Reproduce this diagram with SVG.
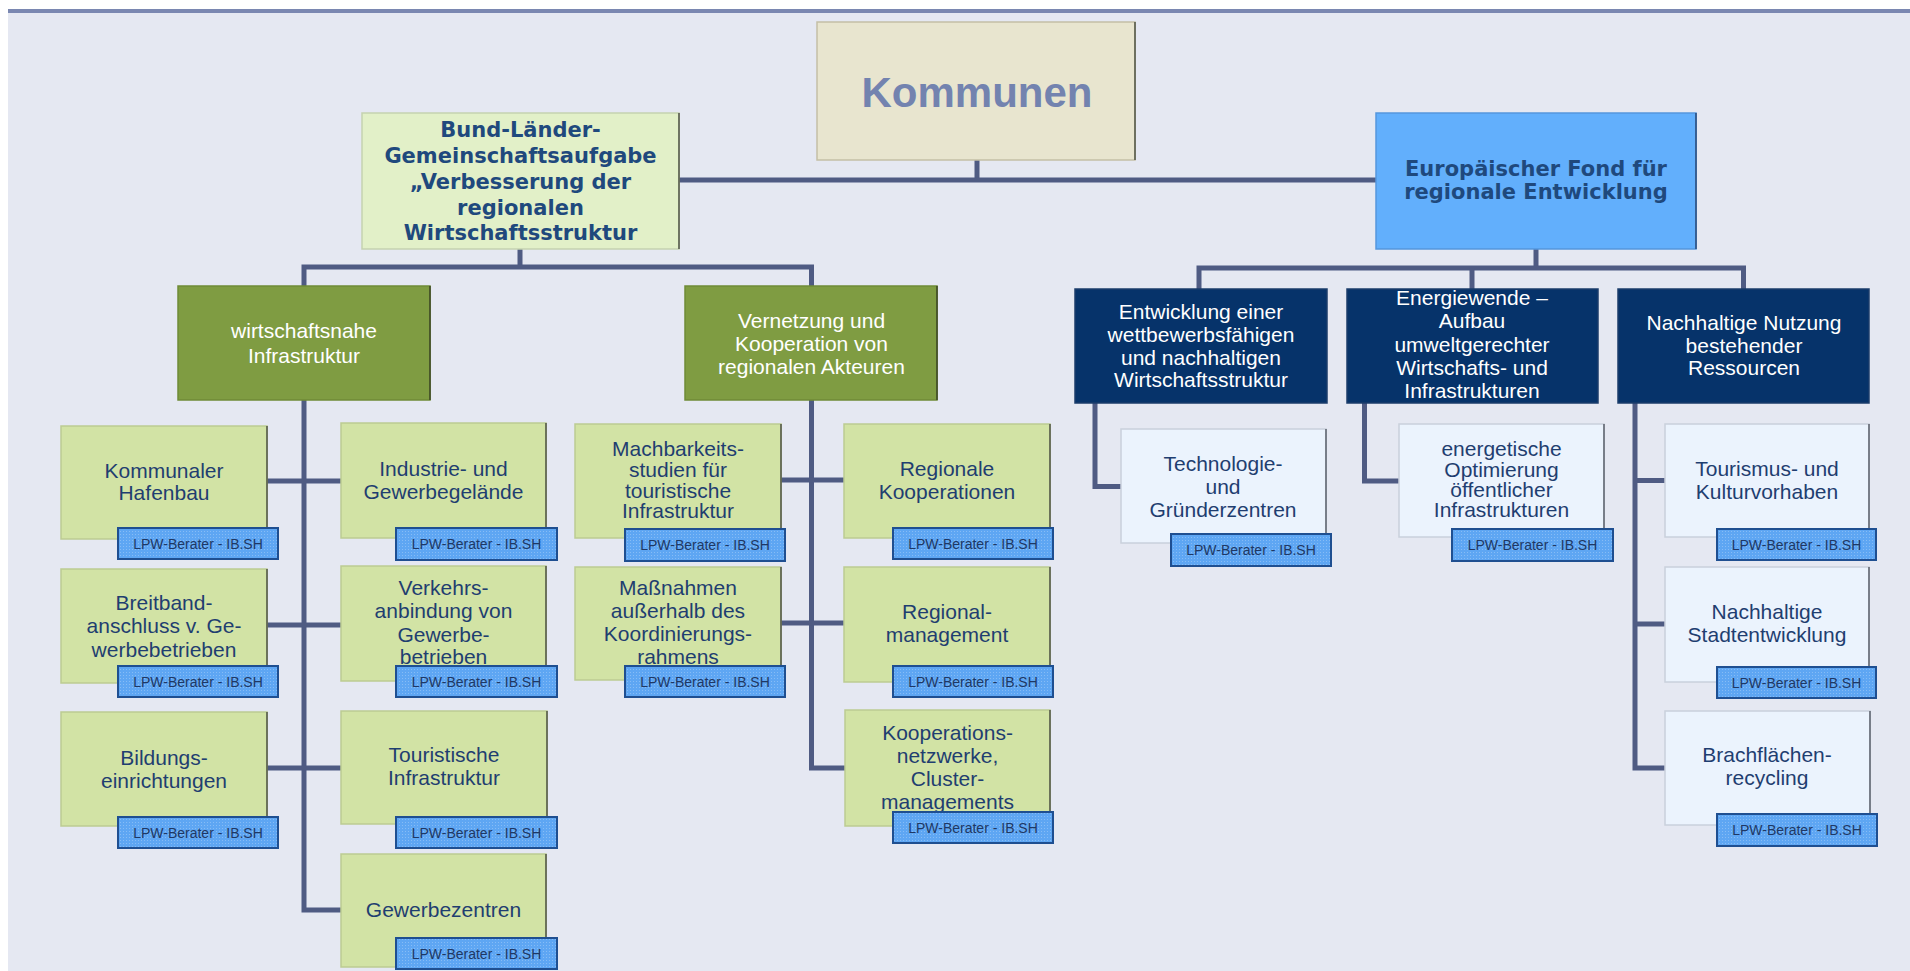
<svg xmlns="http://www.w3.org/2000/svg" width="1910" height="971" viewBox="0 0 1910 971">
<defs>
<pattern id="dots" width="3" height="3" patternUnits="userSpaceOnUse">
<rect width="3" height="3" fill="#5ea6f3"/>
<rect width="1" height="1" fill="#86bcf6"/>
</pattern>
</defs>
<style>
.bg{fill:#e5e8f2}
.conn{fill:none;stroke:#4f5b83;stroke-width:5;stroke-linejoin:miter;stroke-linecap:butt}
.lg{fill:#d2e3a5;stroke:#bccb93;stroke-width:1.5}
.ol{fill:#7f9c42;stroke:#6f8a37;stroke-width:1.5}
.nv{fill:#06336a;stroke:#1b3d6b;stroke-width:1.5}
.lb{fill:#ebf3fd;stroke:#c9d0dc;stroke-width:1.5}
.edge{stroke:#4e5244;stroke-width:1.5}
.badge{fill:url(#dots);stroke:#1f4f91;stroke-width:2}
.bt{font-family:"Liberation Sans",Arial,sans-serif;font-size:14px;fill:#1f3864;text-anchor:middle}
.t{font-family:"Liberation Sans",Arial,sans-serif;font-size:21px;fill:#1f3e70;text-anchor:middle}
.w{font-family:"Liberation Sans",Arial,sans-serif;font-size:21px;fill:#ffffff;text-anchor:middle}
.bold{font-family:"DejaVu Sans",Verdana,sans-serif;font-weight:bold;font-size:21px;fill:#1f497d;text-anchor:middle}
</style>
<rect x="0" y="0" width="1910" height="971" fill="#ffffff"/>
<rect class="bg" x="8" y="9" width="1902" height="962"/>
<rect x="8" y="9" width="1902" height="4" fill="#7a87b1"/>

<g id="connectors">
<path class="conn" d="M977,160 V180"/>
<path class="conn" d="M679,180 H1376"/>
<path class="conn" d="M520,249 V267"/>
<path class="conn" d="M304,286 V267 H811.5 V286"/>
<path class="conn" d="M1536,249 V268"/>
<path class="conn" d="M1199,289 V268 H1743.5 V289"/>
<path class="conn" d="M1472,268 V289"/>
<path class="conn" d="M304,400 V910 H341"/>
<path class="conn" d="M266,481 H341"/>
<path class="conn" d="M266,625 H341"/>
<path class="conn" d="M266,768 H341"/>
<path class="conn" d="M811.5,400 V768 H845"/>
<path class="conn" d="M781,480 H844"/>
<path class="conn" d="M781,623 H844"/>
<path class="conn" d="M1095,403 V486.5 H1121"/>
<path class="conn" d="M1364.5,403 V481 H1399"/>
<path class="conn" d="M1635,403 V768 H1665"/>
<path class="conn" d="M1635,480.5 H1665"/>
<path class="conn" d="M1635,624 H1665"/>
</g>

<g id="kommunen">
<rect x="817" y="22" width="318" height="138" fill="#e8e5cf" stroke="#c4bfa6" stroke-width="1.5"/>
<line class="edge" x1="1135" y1="22" x2="1135" y2="160"/>
<text x="977" y="107" font-family="Liberation Sans,Arial,sans-serif" font-weight="bold" font-size="42" fill="#7383af" text-anchor="middle">Kommunen</text>
</g>

<g id="bund">
<rect x="362" y="113" width="317" height="136" fill="#e2f0c8" stroke="#c5d2b0" stroke-width="1.5"/>
<line class="edge" x1="679" y1="113" x2="679" y2="249"/>
<text class="bold" x="520.5" y="137">Bund-Länder-</text>
<text class="bold" x="520.5" y="162.5">Gemeinschaftsaufgabe</text>
<text class="bold" x="520.5" y="188.5">„Verbesserung der</text>
<text class="bold" x="520.5" y="214.5">regionalen</text>
<text class="bold" x="520.5" y="240">Wirtschaftsstruktur</text>
</g>

<g id="efre">
<rect x="1376" y="113" width="320" height="136" fill="#62affc" stroke="#5596dd" stroke-width="1.5"/>
<line x1="1696" y1="113" x2="1696" y2="249" stroke="#284a7a" stroke-width="1.5"/>
<text class="bold" x="1536" y="176">Europäischer Fond für</text>
<text class="bold" x="1536" y="199">regionale Entwicklung</text>
</g>

<g id="wirtschaftsnahe">
<rect class="ol" x="178" y="286" width="252" height="114"/>
<line x1="430" y1="286" x2="430" y2="400" stroke="#3b4424" stroke-width="1.5"/>
<text class="w" x="304" y="338">wirtschaftsnahe</text>
<text class="w" x="304" y="363">Infrastruktur</text>
</g>

<g id="vernetzung">
<rect class="ol" x="685" y="286" width="252" height="114"/>
<line x1="937" y1="286" x2="937" y2="400" stroke="#3b4424" stroke-width="1.5"/>
<text class="w" x="811.5" y="327.5">Vernetzung und</text>
<text class="w" x="811.5" y="350.5">Kooperation von</text>
<text class="w" x="811.5" y="373.5">regionalen Akteuren</text>
</g>

<g id="entwicklung">
<rect class="nv" x="1075" y="289" width="252" height="114"/>
<text class="w" x="1201" y="318.5">Entwicklung einer</text>
<text class="w" x="1201" y="341.5">wettbewerbsfähigen</text>
<text class="w" x="1201" y="364.5">und nachhaltigen</text>
<text class="w" x="1201" y="387">Wirtschaftsstruktur</text>
</g>

<g id="energiewende">
<rect class="nv" x="1347" y="289" width="251" height="114"/>
<text class="w" x="1472" y="305">Energiewende –</text>
<text class="w" x="1472" y="328">Aufbau</text>
<text class="w" x="1472" y="351.5">umweltgerechter</text>
<text class="w" x="1472" y="374.5">Wirtschafts- und</text>
<text class="w" x="1472" y="397.5">Infrastrukturen</text>
</g>

<g id="nachhaltige-nutzung">
<rect class="nv" x="1618" y="289" width="251" height="114"/>
<text class="w" x="1744" y="330">Nachhaltige Nutzung</text>
<text class="w" x="1744" y="352.5">bestehender</text>
<text class="w" x="1744" y="375">Ressourcen</text>
</g>

<g id="kommunaler-hafenbau">
<rect class="lg" x="61" y="426" width="206" height="113"/>
<line class="edge" x1="267" y1="426" x2="267" y2="539"/>
<text class="t" x="164" y="477.5">Kommunaler</text>
<text class="t" x="164" y="500">Hafenbau</text>
<rect class="badge" x="118" y="528" width="160" height="31"/>
<text class="bt" x="198" y="548.5">LPW-Berater - IB.SH</text>
</g>

<g id="industrie">
<rect class="lg" x="341" y="423" width="205" height="115"/>
<line class="edge" x1="546" y1="423" x2="546" y2="538"/>
<text class="t" x="443.5" y="476">Industrie- und</text>
<text class="t" x="443.5" y="499">Gewerbegelände</text>
<rect class="badge" x="396" y="528" width="161" height="32"/>
<text class="bt" x="476.5" y="549">LPW-Berater - IB.SH</text>
</g>

<g id="breitband">
<rect class="lg" x="61" y="569" width="206" height="114"/>
<line class="edge" x1="267" y1="569" x2="267" y2="683"/>
<text class="t" x="164" y="610">Breitband-</text>
<text class="t" x="164" y="633">anschluss v. Ge-</text>
<text class="t" x="164" y="656.5">werbebetrieben</text>
<rect class="badge" x="118" y="666" width="160" height="31"/>
<text class="bt" x="198" y="686.5">LPW-Berater - IB.SH</text>
</g>

<g id="verkehrsanbindung">
<rect class="lg" x="341" y="566" width="205" height="115"/>
<line class="edge" x1="546" y1="566" x2="546" y2="681"/>
<text class="t" x="443.5" y="595">Verkehrs-</text>
<text class="t" x="443.5" y="618">anbindung von</text>
<text class="t" x="443.5" y="641.5">Gewerbe-</text>
<text class="t" x="443.5" y="663.5">betrieben</text>
<rect class="badge" x="396" y="666" width="161" height="31"/>
<text class="bt" x="476.5" y="686.5">LPW-Berater - IB.SH</text>
</g>

<g id="bildung">
<rect class="lg" x="61" y="712" width="206" height="114"/>
<line class="edge" x1="267" y1="712" x2="267" y2="826"/>
<text class="t" x="164" y="765">Bildungs-</text>
<text class="t" x="164" y="787.5">einrichtungen</text>
<rect class="badge" x="118" y="817" width="160" height="31"/>
<text class="bt" x="198" y="837.5">LPW-Berater - IB.SH</text>
</g>

<g id="touristische-infrastruktur">
<rect class="lg" x="341" y="711" width="206" height="113"/>
<line class="edge" x1="547" y1="711" x2="547" y2="824"/>
<text class="t" x="444" y="762">Touristische</text>
<text class="t" x="444" y="785">Infrastruktur</text>
<rect class="badge" x="396" y="817" width="161" height="31"/>
<text class="bt" x="476.5" y="837.5">LPW-Berater - IB.SH</text>
</g>

<g id="gewerbezentren">
<rect class="lg" x="341" y="854" width="205" height="113"/>
<line class="edge" x1="546" y1="854" x2="546" y2="967"/>
<text class="t" x="443.5" y="916.5">Gewerbezentren</text>
<rect class="badge" x="396" y="938" width="161" height="31"/>
<text class="bt" x="476.5" y="958.5">LPW-Berater - IB.SH</text>
</g>

<g id="machbarkeitsstudien">
<rect class="lg" x="575" y="424" width="206" height="114"/>
<line class="edge" x1="781" y1="424" x2="781" y2="538"/>
<text class="t" x="678" y="456" font-size="19">Machbarkeits-</text>
<text class="t" x="678" y="477" font-size="19">studien für</text>
<text class="t" x="678" y="497.5" font-size="19">touristische</text>
<text class="t" x="678" y="518" font-size="19">Infrastruktur</text>
<rect class="badge" x="625" y="529" width="160" height="32"/>
<text class="bt" x="705" y="550">LPW-Berater - IB.SH</text>
</g>

<g id="massnahmen">
<rect class="lg" x="575" y="567" width="206" height="113"/>
<line class="edge" x1="781" y1="567" x2="781" y2="680"/>
<text class="t" x="678" y="595">Maßnahmen</text>
<text class="t" x="678" y="618">außerhalb des</text>
<text class="t" x="678" y="641">Koordinierungs-</text>
<text class="t" x="678" y="663.5">rahmens</text>
<rect class="badge" x="625" y="666" width="160" height="31"/>
<text class="bt" x="705" y="686.5">LPW-Berater - IB.SH</text>
</g>

<g id="regionale-kooperationen">
<rect class="lg" x="844" y="424" width="206" height="114"/>
<line class="edge" x1="1050" y1="424" x2="1050" y2="538"/>
<text class="t" x="947" y="476">Regionale</text>
<text class="t" x="947" y="499">Kooperationen</text>
<rect class="badge" x="893" y="528" width="160" height="31"/>
<text class="bt" x="973" y="548.5">LPW-Berater - IB.SH</text>
</g>

<g id="regionalmanagement">
<rect class="lg" x="844" y="567" width="206" height="115"/>
<line class="edge" x1="1050" y1="567" x2="1050" y2="682"/>
<text class="t" x="947" y="619">Regional-</text>
<text class="t" x="947" y="642">management</text>
<rect class="badge" x="893" y="666" width="160" height="31"/>
<text class="bt" x="973" y="686.5">LPW-Berater - IB.SH</text>
</g>

<g id="kooperationsnetzwerke">
<rect class="lg" x="845" y="710" width="205" height="116"/>
<line class="edge" x1="1050" y1="710" x2="1050" y2="826"/>
<text class="t" x="947.5" y="740">Kooperations-</text>
<text class="t" x="947.5" y="763">netzwerke,</text>
<text class="t" x="947.5" y="786">Cluster-</text>
<text class="t" x="947.5" y="808.5">managements</text>
<rect class="badge" x="893" y="812" width="160" height="31"/>
<text class="bt" x="973" y="832.5">LPW-Berater - IB.SH</text>
</g>

<g id="technologiezentren">
<rect class="lb" x="1121" y="429" width="205" height="114"/>
<line x1="1326" y1="429" x2="1326" y2="543" stroke="#5a5f6a" stroke-width="1.5"/>
<text class="t" x="1223" y="471">Technologie-</text>
<text class="t" x="1223" y="493.5">und</text>
<text class="t" x="1223" y="516.5">Gründerzentren</text>
<rect class="badge" x="1171" y="534" width="160" height="32"/>
<text class="bt" x="1251" y="555">LPW-Berater - IB.SH</text>
</g>

<g id="energetische-optimierung">
<rect class="lb" x="1399" y="424" width="205" height="113"/>
<line x1="1604" y1="424" x2="1604" y2="537" stroke="#5a5f6a" stroke-width="1.5"/>
<text class="t" x="1501.5" y="456" font-size="18">energetische</text>
<text class="t" x="1501.5" y="476.5" font-size="18">Optimierung</text>
<text class="t" x="1501.5" y="496.5" font-size="18">öffentlicher</text>
<text class="t" x="1501.5" y="516.5" font-size="18">Infrastrukturen</text>
<rect class="badge" x="1452" y="529" width="161" height="32"/>
<text class="bt" x="1532.5" y="550">LPW-Berater - IB.SH</text>
</g>

<g id="tourismus-kultur">
<rect class="lb" x="1665" y="424" width="204" height="113"/>
<line x1="1869" y1="424" x2="1869" y2="537" stroke="#5a5f6a" stroke-width="1.5"/>
<text class="t" x="1767" y="476">Tourismus- und</text>
<text class="t" x="1767" y="499">Kulturvorhaben</text>
<rect class="badge" x="1717" y="529" width="159" height="31"/>
<text class="bt" x="1796.5" y="549.5">LPW-Berater - IB.SH</text>
</g>

<g id="stadtentwicklung">
<rect class="lb" x="1665" y="567" width="204" height="115"/>
<line x1="1869" y1="567" x2="1869" y2="682" stroke="#5a5f6a" stroke-width="1.5"/>
<text class="t" x="1767" y="619">Nachhaltige</text>
<text class="t" x="1767" y="642">Stadtentwicklung</text>
<rect class="badge" x="1717" y="667" width="159" height="31"/>
<text class="bt" x="1796.5" y="687.5">LPW-Berater - IB.SH</text>
</g>

<g id="brachflaechen">
<rect class="lb" x="1665" y="711" width="205" height="114"/>
<line x1="1870" y1="711" x2="1870" y2="825" stroke="#5a5f6a" stroke-width="1.5"/>
<text class="t" x="1767" y="762">Brachflächen-</text>
<text class="t" x="1767" y="785">recycling</text>
<rect class="badge" x="1717" y="814" width="160" height="32"/>
<text class="bt" x="1797" y="835">LPW-Berater - IB.SH</text>
</g>
</svg>
